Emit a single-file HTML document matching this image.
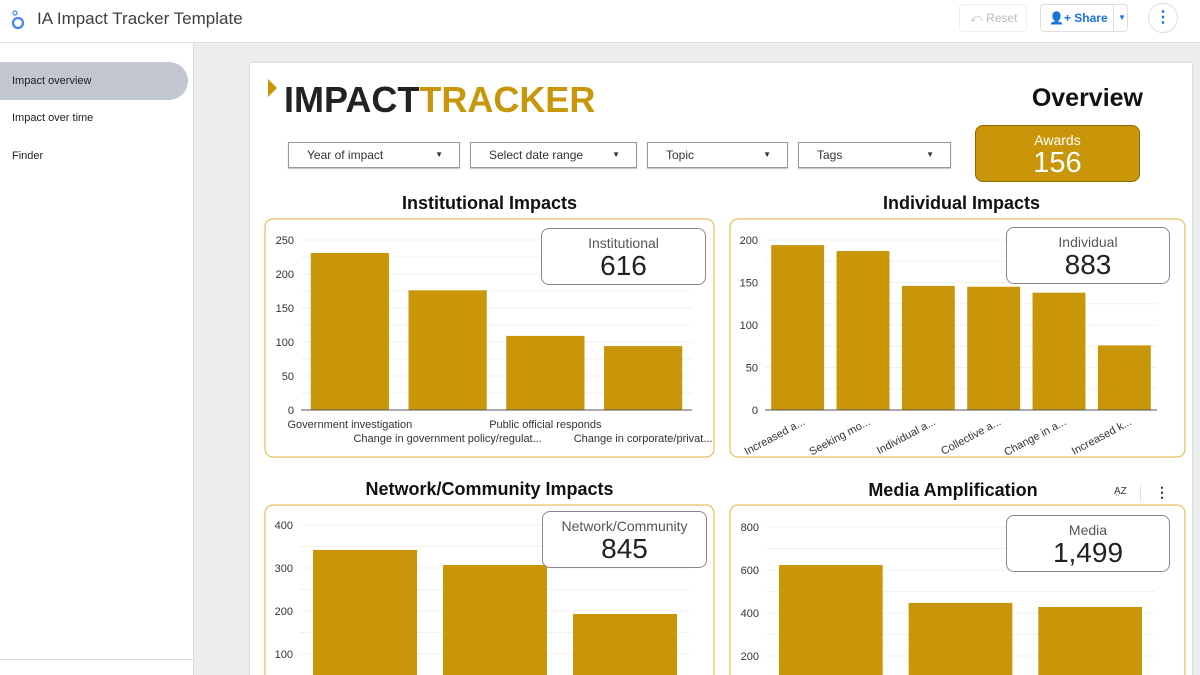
<!DOCTYPE html>
<html><head><meta charset="utf-8">
<style>
*{box-sizing:border-box;margin:0;padding:0}
html,body{width:1200px;height:675px;overflow:hidden}
body{background:#eceeee;font-family:"Liberation Sans",sans-serif;position:relative}
.abs{position:absolute}
#header{left:0;top:0;width:1200px;height:43px;background:#fff;border-bottom:1px solid #e0e0e0}
#sidebar{left:0;top:43px;width:194px;height:632px;background:#fff;border-right:1px solid #dadce0}
.nav{position:absolute;left:0;width:188px;height:38px;line-height:38px;padding-left:12px;font-size:11px;color:#202124;border-radius:0 19px 19px 0}
#card{left:250px;top:63px;width:942px;height:620px;background:#fff;box-shadow:0 0 2px rgba(0,0,0,.2)}
.dd{position:absolute;top:142px;height:26px;border:1px solid #999;box-shadow:0 1px 1px rgba(0,0,0,.25);font-size:12px;color:#333;line-height:24px;padding-left:18px;background:#fff}
.dd span{position:absolute;right:16px;top:0;font-size:8px}
.title{position:absolute;font-weight:bold;font-size:18px;color:#111;text-align:center}
.kpi{position:absolute;border:1px solid #888;border-radius:8px;background:#fff;text-align:center;color:#222}
.kpi .l{font-size:14px;color:#555;margin-top:6px}
.kpi .v{font-size:28px;line-height:30px}
</style></head><body>
<div id="header" class="abs">
  <svg class="abs" style="left:10px;top:8px" width="16" height="22"><circle cx="8" cy="15" r="5" fill="none" stroke="#4285f4" stroke-width="2.2"/><circle cx="5" cy="5" r="2" fill="none" stroke="#4285f4" stroke-width="1.2"/></svg>
  <div class="abs" style="left:37px;top:9px;font-size:17px;color:#3c4043">IA Impact Tracker Template</div>
  <div class="abs" style="left:959px;top:4px;width:68px;height:28px;border:1px solid #eee;border-radius:4px;font-size:12px;color:#bbb;line-height:26px;padding-left:10px">⤺ Reset</div>
  <div class="abs" style="left:1040px;top:4px;width:88px;height:28px;border:1px solid #ddd;border-radius:4px;font-size:12px;color:#1a73e8;line-height:26px;padding-left:8px;font-weight:bold">👤+ Share<span style="position:absolute;left:72px;top:0;border-left:1px solid #ddd;padding-left:4px;font-size:8px">▼</span></div>
  <div class="abs" style="left:1148px;top:3px;width:30px;height:30px;border:1px solid #ddd;border-radius:50%;color:#1a73e8;text-align:center;line-height:28px;font-weight:bold;font-size:16px">⋮</div>
</div>
<div id="sidebar" class="abs">
  <div class="nav" style="top:19px;background:#c2c6d1">Impact overview</div>
  <div class="nav" style="top:56px">Impact over time</div>
  <div class="nav" style="top:94px">Finder</div>
  <div class="abs" style="left:0;top:616px;width:194px;border-top:1px solid #dadce0"></div>
</div>
<div id="card" class="abs"></div>

<div class="abs" style="left:268px;top:79px">
  <div class="abs" style="left:0;top:0;width:0;height:0;border-top:9px solid transparent;border-bottom:9px solid transparent;border-left:9px solid #c9960a"></div>
  <div class="abs" style="left:16px;top:1px;font-size:36px;font-weight:bold;line-height:40px;white-space:nowrap;letter-spacing:0px"><span style="color:#222">IMPACT</span><span style="color:#c9960a">TRACKER</span></div>
</div>
<div class="abs" style="left:1000px;top:84px;width:143px;text-align:right;font-size:25px;font-weight:bold;color:#111">Overview</div>

<div class="dd" style="left:288px;width:172px">Year of impact<span>▼</span></div>
<div class="dd" style="left:470px;width:167px">Select date range<span>▼</span></div>
<div class="dd" style="left:647px;width:141px">Topic<span>▼</span></div>
<div class="dd" style="left:798px;width:153px">Tags<span>▼</span></div>

<div class="kpi" style="left:975px;top:125px;width:165px;height:57px;background:#c9960a;color:#fff;border-color:#8a6a00"><div class="l" style="color:#fff;margin-top:6px">Awards</div><div class="v" style="font-size:29px">156</div></div>

<div class="title" style="left:265px;top:193px;width:449px">Institutional Impacts</div>
<div class="title" style="left:730px;top:193px;width:463px">Individual Impacts</div>
<div class="title" style="left:265px;top:479px;width:449px">Network/Community Impacts</div>
<div class="title" style="left:730px;top:480px;width:446px">Media Amplification</div>
<div class="abs" style="left:1114px;top:486px;font-size:10px;color:#333">A̤Z</div>
<div class="abs" style="left:1140px;top:485px;height:16px;border-left:1px solid #ddd"></div>
<div class="abs" style="left:1155px;top:484px;font-size:14px;color:#333;font-weight:bold">⋮</div>

<svg id="charts" class="abs" style="left:0;top:0" width="1200" height="675"></svg>

<div class="kpi" style="left:541px;top:228px;width:165px;height:57px"><div class="l">Institutional</div><div class="v">616</div></div>
<div class="kpi" style="left:1006px;top:227px;width:164px;height:57px"><div class="l">Individual</div><div class="v">883</div></div>
<div class="kpi" style="left:542px;top:511px;width:165px;height:57px"><div class="l">Network/Community</div><div class="v">845</div></div>
<div class="kpi" style="left:1006px;top:515px;width:164px;height:57px"><div class="l">Media</div><div class="v">1,499</div></div>

<script>
const instCategories=["Government investigation","Change in government policy/regulat...","Public official responds","Change in corporate/privat..."];
const instValues=[231,176,109,94];
const instTicks=[0,50,100,150,200,250];
const indCategories=["Increased a...","Seeking mo...","Individual a...","Collective a...","Change in a...","Increased k..."];
const indValues=[194,187,146,145,138,76];
const indTicks=[0,50,100,150,200];
const netCategories=["A","B","C"];
const netValues=[342,307,193];
const netTicks=[100,200,300,400];
const medCategories=["A","B","C"];
const medValues=[623,447,428];
const medTicks=[200,400,600,800];

const NS="http://www.w3.org/2000/svg";
const svg=document.getElementById('charts');
function mk(t,a,p){const e=document.createElementNS(NS,t);for(const k in a)e.setAttribute(k,a[k]);(p||svg).appendChild(e);return e;}

function chart(o){
  const box=mk('rect',{x:o.bx,y:o.by,width:o.bw,height:o.bh,rx:8,fill:'#fff',stroke:'#e3c160','stroke-width':1.2});
  
  
  const y=v=>o.y0-(v-0)*o.scale;
  const n=o.values.length, band=(o.x1-o.x0)/n;
  for(let v=o.step/2;v<=o.max;v+=o.step/2){
    if(y(v)<o.by)break;
    const g=mk('line',{x1:o.x0,x2:o.x1,y1:y(v),y2:y(v),stroke:'#f0f0f0'});
    
    
  }
  o.ticks.forEach(t=>{
    const tx=mk('text',{x:o.x0-7,y:y(t)+4,'text-anchor':'end','font-size':11,fill:'#333','font-family':'Liberation Sans, sans-serif'});
    tx.textContent=t;
    
    
  });
  o.values.forEach((v,i)=>{
    const bx=o.x0+band*i+band*(1-o.bar)/2;
    const r=mk('rect',{x:bx,y:y(v),width:band*o.bar,height:Math.max(0,o.y0-y(v)),fill:'#c9960a'});
    
    
    if(o.labels){
      const cx=bx+band*o.bar/2;
      let tx;
      if(o.rot){
        tx=mk('text',{x:cx+8,y:o.y0+14,'text-anchor':'end','font-size':11,fill:'#333','font-family':'Liberation Sans, sans-serif',transform:`rotate(-28 ${cx+8} ${o.y0+14})`});
      }else{
        tx=mk('text',{x:cx,y:o.y0+18+(i%2)*14,'text-anchor':'middle','font-size':11,fill:'#333','font-family':'Liberation Sans, sans-serif'});
      }
      tx.textContent=o.labels[i];
      
      
    }
  });
  if(o.axis){
    const a=mk('line',{x1:o.x0,x2:o.x1,y1:o.y0,y2:o.y0,stroke:'#555','stroke-width':1});
    
    
  }
}
chart({name:'institutional',bx:265,by:219,bw:449,bh:238,x0:301,x1:692,y0:410,scale:0.68,step:50,max:250,values:instValues,ticks:instTicks,labels:instCategories,rot:false,bar:0.8,axis:true});
chart({name:'individual',bx:730,by:219,bw:455,bh:238,x0:765,x1:1157,y0:410,scale:0.85,step:50,max:200,values:indValues,ticks:indTicks,labels:indCategories,rot:true,bar:0.81,axis:true});
chart({name:'network',bx:265,by:505,bw:449,bh:200,x0:300,x1:690,y0:697,scale:0.43,step:100,max:400,values:netValues,ticks:netTicks,labels:null,bar:0.8,axis:false});
chart({name:'media',bx:730,by:505,bw:455,bh:200,x0:766,x1:1155,y0:699,scale:0.215,step:200,max:800,values:medValues,ticks:medTicks,labels:null,bar:0.8,axis:false});
</script>
</body></html>
